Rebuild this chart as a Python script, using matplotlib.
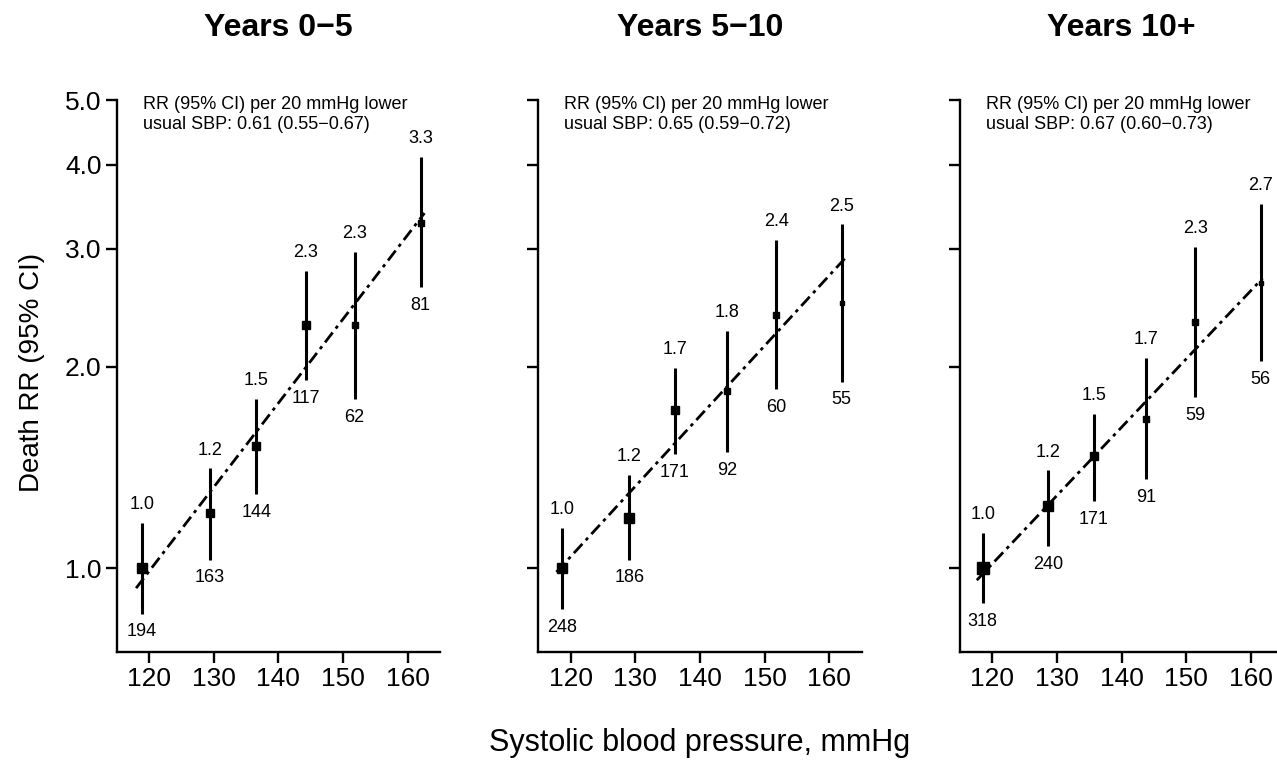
import numpy as np
import matplotlib
matplotlib.use("Agg")
import matplotlib.pyplot as plt

# ================= DATA =================
titles = ["Years 0\u22125", "Years 5\u221210", "Years 10+"]
notes = ["0.61 (0.55\u22120.67)", "0.65 (0.59\u22120.72)", "0.67 (0.60\u22120.73)"]

sbp1 = [118.9, 129.4, 136.6, 144.2, 151.8, 162.0]
rr1 = [1.0, 1.21, 1.52, 2.31, 2.31, 3.28]
lo1 = [0.856, 1.03, 1.29, 1.91, 1.79, 2.63]
hi1 = [1.17, 1.41, 1.79, 2.78, 2.97, 4.11]
n1 = [194, 163, 144, 117, 62, 81]
lab1 = ["1.0", "1.2", "1.5", "2.3", "2.3", "3.3"]
fitx1 = [118.0, 162.6]
fity1 = [0.934, 3.39]

sbp2 = [118.7, 129.1, 136.1, 144.2, 151.8, 161.9]
rr2 = [1.0, 1.19, 1.72, 1.84, 2.39, 2.49]
lo2 = [0.87, 1.03, 1.48, 1.49, 1.85, 1.90]
hi2 = [1.15, 1.38, 1.99, 2.26, 3.09, 3.26]
n2 = [248, 186, 171, 92, 60, 55]
lab2 = ["1.0", "1.2", "1.7", "1.8", "2.4", "2.5"]
fitx2 = [117.8, 162.7]
fity2 = [0.987, 2.92]

sbp3 = [118.5, 128.6, 135.7, 143.8, 151.4, 161.5]
rr3 = [1.0, 1.24, 1.47, 1.67, 2.33, 2.67]
lo3 = [0.887, 1.08, 1.26, 1.36, 1.80, 2.04]
hi3 = [1.13, 1.40, 1.70, 2.06, 3.02, 3.50]
n3 = [318, 240, 171, 91, 59, 56]
lab3 = ["1.0", "1.2", "1.5", "1.7", "2.3", "2.7"]
fitx3 = [117.6, 161.8]
fity3 = [0.96, 2.71]

yticks = [1.0, 2.0, 3.0, 4.0, 5.0]
xticks = [120, 130, 140, 150, 160]
# =========================================

plt.rcParams['font.family'] = ['Liberation Sans', 'DejaVu Sans']

panels = [
    (sbp1, rr1, lo1, hi1, n1, lab1, fitx1, fity1),
    (sbp2, rr2, lo2, hi2, n2, lab2, fitx2, fity2),
    (sbp3, rr3, lo3, hi3, n3, lab3, fitx3, fity3),
]

fig = plt.figure(figsize=(12.77, 7.65), dpi=100)

W, H = 1277.0, 765.0
ax_w = 323.3 / W
ax_h = 552.0 / H
ax_b = (H - 652.0) / H
lefts = [116.7, 538.3, 960.0]

for i, (x, rr, lo, hi, n, lab, fx, fy) in enumerate(panels):
    ax = fig.add_axes([lefts[i] / W, ax_b, ax_w, ax_h])
    ax.set_yscale('log')
    ax.set_xlim(115, 165)
    ax.set_ylim(0.75, 5.0)

    # fitted trend line
    ax.plot(fx, fy, color='black', lw=2.0, linestyle=(0, (4.5, 1.8, 1.2, 1.8)), zorder=2)

    for xi, r, l, h, ni, lb in zip(x, rr, lo, hi, n, lab):
        ax.plot([xi, xi], [l, h], color='black', lw=2.2, solid_capstyle='butt', zorder=3)
        ax.plot(xi, r, marker='s', color='black', ms=0.48 * np.sqrt(ni), zorder=4)
        ax.annotate(lb, (xi, h), xytext=(0, 7), textcoords='offset points',
                    ha='center', va='bottom', fontsize=13)
        ax.annotate(str(ni), (xi, l), xytext=(0, -7), textcoords='offset points',
                    ha='center', va='top', fontsize=13)

    ax.text(0.08, 1.008, "RR (95% CI) per 20 mmHg lower\nusual SBP: " + notes[i],
            transform=ax.transAxes, ha='left', va='top', fontsize=13, linespacing=1.3)

    ax.set_yticks(yticks)
    ax.yaxis.set_minor_locator(matplotlib.ticker.NullLocator())
    if i == 0:
        ax.set_yticklabels([f"{v:.1f}" for v in yticks])
    else:
        ax.set_yticklabels([])
    ax.set_xticks(xticks)
    ax.set_xticklabels([str(v) for v in xticks])

    for s in ['top', 'right']:
        ax.spines[s].set_visible(False)
    for s in ['left', 'bottom']:
        ax.spines[s].set_linewidth(1.7)
    ax.tick_params(axis='both', which='major', length=8, width=1.7, labelsize=19, pad=3)

    cx = (lefts[i] + 323.3 / 2) / W
    fig.text(cx, 1 - 28 / H, titles[i], ha='center', va='center',
             fontsize=23, fontweight='bold')

fig.text(32 / W, 1 - 372 / H, "Death RR (95% CI)", rotation=90,
         ha='center', va='center', fontsize=20)
fig.text(700 / W, 1 - 743 / H, "Systolic blood pressure, mmHg",
         ha='center', va='center', fontsize=22)

fig.savefig("out.png", dpi=100)
